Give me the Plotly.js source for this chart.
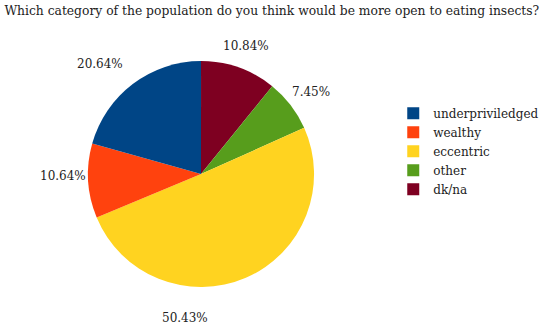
<!DOCTYPE html>
<html>
<head>
<meta charset="utf-8">
<script src="https://cdn.plot.ly/plotly-3.0.1.min.js"></script>
<style>
  html, body { margin: 0; padding: 0; background: #fff; }
  #chart { width: 550px; height: 329px; }
</style>
</head>
<body>
<div id="chart"></div>
<script>
// answers, listed clockwise from 12 o'clock (legend shows them reversed)
var categories = ["dk/na", "other", "eccentric", "wealthy", "underpriviledged"];
var shares = [10.84, 7.45, 50.43, 10.64, 20.64];
var sliceLabels = ["10.84%", "7.45%", "50.43%", "10.64%", "20.64%"];
var sliceColors = ["#7e0021", "#579d1c", "#ffd320", "#ff420e", "#004586"];

var serif = "DejaVu Serif";

// where each percentage sits, in pixels of the 550x329 page
var labelSpots = [[246, 46], [311, 92], [185, 318], [63, 176], [100, 64]];

var data = [{
    type: "pie",
    labels: categories,
    values: shares,
    textinfo: "none",
    sort: false,
    direction: "clockwise",
    rotation: 0,
    marker: { colors: sliceColors, line: { width: 0 } },
    hoverinfo: "label+percent",
    domain: { x: [0.16, 0.571], y: [0.118, 0.824] }
}];

var annotations = sliceLabels.map(function (t, i) {
    return {
        text: t,
        xref: "paper", yref: "paper",
        x: labelSpots[i][0] / 550,
        y: 1 - labelSpots[i][1] / 329,
        xanchor: "center", yanchor: "middle",
        showarrow: false,
        font: { family: serif, size: 12, color: "#222" }
    };
});

var layout = {
    width: 550,
    height: 329,
    margin: { l: 0, r: 0, t: 0, b: 0 },
    paper_bgcolor: "#fff",
    title: {
        text: "Which category of the population do you think would be more open to eating insects?",
        font: { family: "DejaVu Serif Condensed, DejaVu Serif", size: 13.7, color: "#222" },
        x: 0.008, xanchor: "left",
        y: 0.985, yanchor: "top"
    },
    annotations: annotations,
    showlegend: true,
    legend: {
        x: 0.715, xanchor: "left",
        y: 0.7, yanchor: "top",
        traceorder: "reversed",
        font: { family: serif, size: 12, color: "#222" },
        tracegroupgap: 0,
        itemwidth: 30
    }
};

Plotly.newPlot("chart", data, layout, { displayModeBar: false, staticPlot: true });
</script>
</body>
</html>
